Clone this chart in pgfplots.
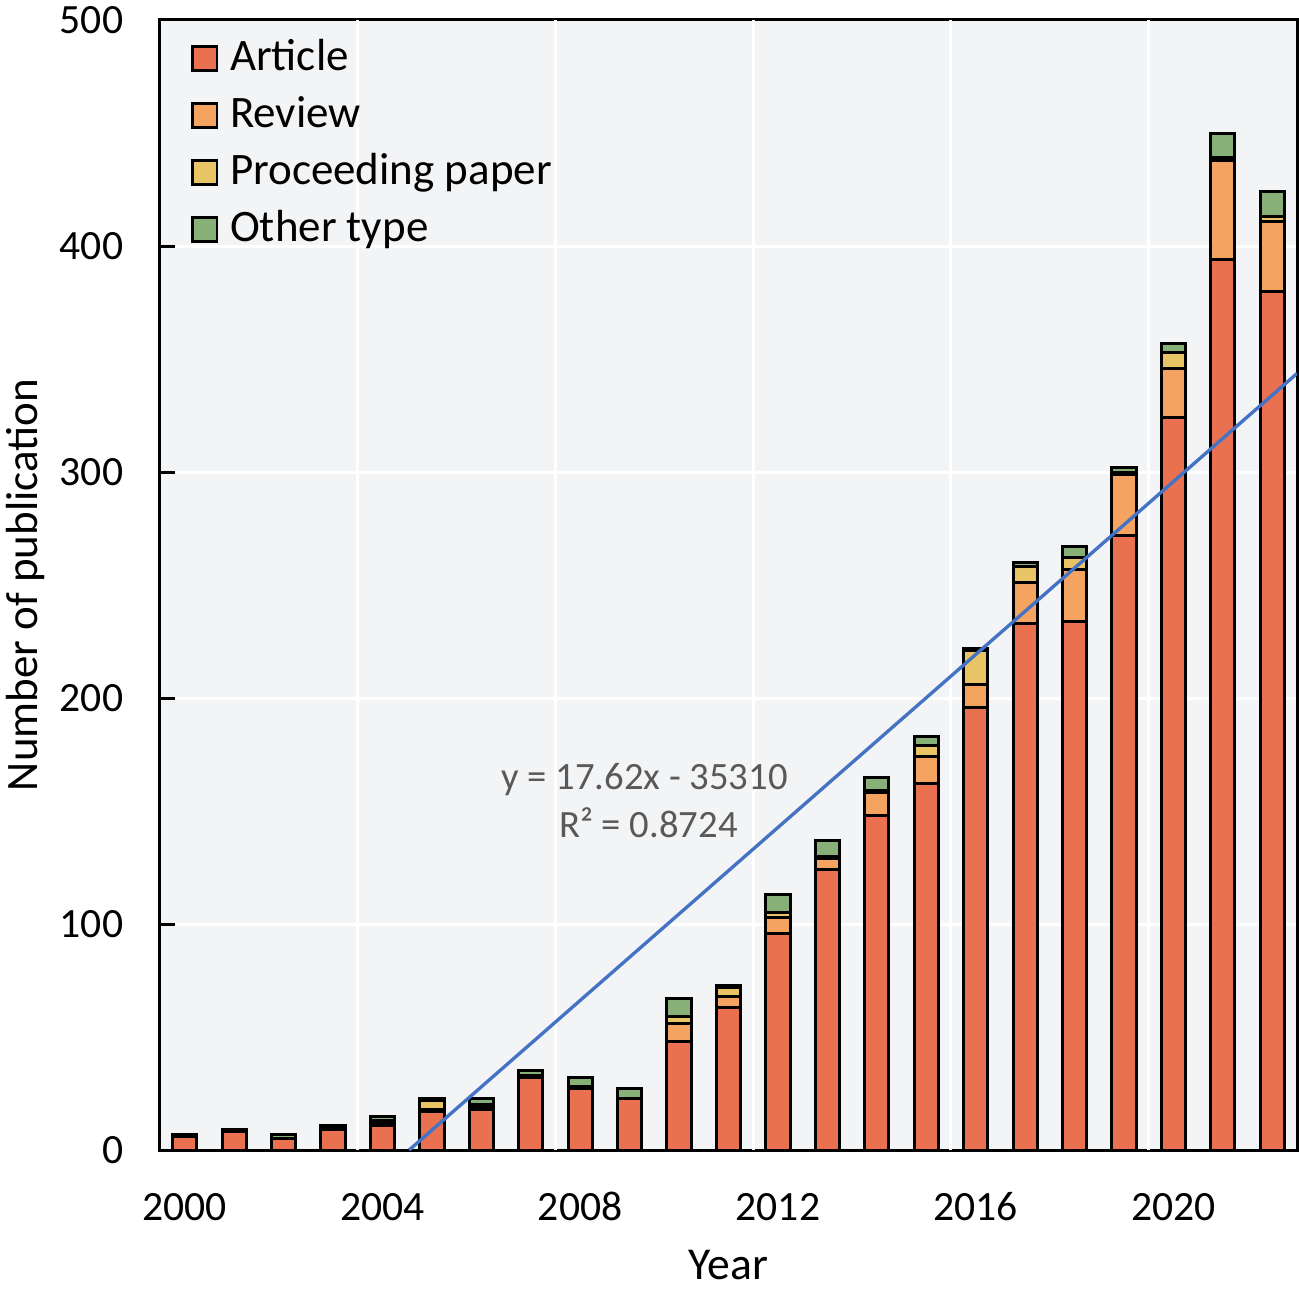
\documentclass[border=0pt]{standalone}
\usepackage{pgfplots}
\usepackage{pgfplotstable}
\pgfplotsset{compat=1.18}
\usepackage{fontspec}
\setmainfont{Carlito}
\definecolor{cArt}{RGB}{233,113,80}
\definecolor{cRev}{RGB}{244,164,96}
\definecolor{cPro}{RGB}{232,196,101}
\definecolor{cOth}{RGB}{135,176,120}
\definecolor{cBg}{RGB}{243,244,246}
\definecolor{cLine}{RGB}{68,114,196}
\definecolor{cTxt}{RGB}{89,89,89}

\pgfplotstableread{
year art rev pro oth
2000 6 0 0 1
2001 8 0 0 1
2002 5 0 0 2
2003 9 0 1 1
2004 11 1 1 2
2005 17 1 4 1
2006 18 1 1 3
2007 32 0 1 2
2008 27 1 0 4
2009 23 0 0 4
2010 48 8 3 8
2011 63 5 4 1
2012 96 7 2 8
2013 124 5 1 7
2014 148 10 1 6
2015 162 12 5 4
2016 196 10 15 1
2017 233 18 7 2
2018 234 23 5 5
2019 272 27 1 2
2020 324 22 7 4
2021 394 44 1 11
2022 380 31 2 11
}\data

\pgfplotsset{
  mybar/.style={draw=black, line width=0.9pt,
    legend image code/.code={\draw[##1, line width=0.8pt] (0pt,-3.6pt) rectangle (7.4pt,3.6pt);}},
}

\begin{document}
\begin{tikzpicture}
\begin{axis}[name=ax,
  width=341.1pt, height=339pt, scale only axis,
  xmin=1999.5, xmax=2022.5, ymin=0, ymax=500,
  ybar stacked, bar width=0.49,
  axis background/.style={fill=cBg},
  axis line style={line width=0.9pt},
  /pgf/number format/assume math mode=true,
  xtick={2000,2004,...,2020},
  xticklabel style={/pgf/number format/1000 sep={}, yshift=-8.6pt, text height=9pt, text depth=0pt, font=\fontsize{12.5}{14}\selectfont},
  yticklabel style={xshift=-7.5pt, font=\fontsize{12.5}{14}\selectfont},
  xtick style={draw=none},
  ytick={0,100,...,500}, ytick pos=left, tick align=inside,
  major tick length=4.5pt, ytick style={line width=0.9pt, black},
  ymajorgrids, grid style={white, line width=0.9pt},
  extra x ticks={2003.5,2007.5,2011.5,2015.5,2019.5}, extra x tick labels={},
  extra x tick style={grid=major, major tick length=0pt},
  xlabel={Year}, ylabel={Number of publication},
  xlabel style={at={(axis description cs:0.5,-0.1018)}, anchor=center, font=\fontsize{13.7}{15}\selectfont},
  ylabel style={at={(axis description cs:-0.118,0.5)}, anchor=center, font=\fontsize{13.5}{15}\selectfont},
  legend style={at={(axis description cs:0.018,0.996)}, anchor=north west, draw=none, fill=none,
    font=\fontsize{13.5}{15}\selectfont, row sep=1pt,
    nodes={inner sep=2pt, text height=9.6pt, text depth=2.5pt},
    /tikz/every odd column/.append style={column sep=1.5pt}},
  legend cell align=left,
]
\addplot[mybar, fill=cArt] table[x=year, y=art]{\data};
\addplot[mybar, fill=cRev] table[x=year, y=rev]{\data};
\addplot[mybar, fill=cPro] table[x=year, y=pro]{\data};
\addplot[mybar, fill=cOth] table[x=year, y=oth]{\data};
\legend{Article, Review, Proceeding paper, Other type}
\end{axis}
\begin{axis}[width=341.1pt, height=339pt, scale only axis,
  xmin=1999.5, xmax=2022.5, ymin=0, ymax=500, hide axis]
\addplot[color=cLine, line width=1pt, no marks] coordinates {(2004.54,0) (2022.5,343.6)};
\node[text=cTxt, font=\fontsize{11.6}{13}\selectfont] at (axis cs:2009.3,163.7) {y = 17.62x - 35310};
\node[text=cTxt, font=\fontsize{11.6}{13}\selectfont] at (axis cs:2009.38,144.7) {R² = 0.8724};
\end{axis}
\pgfresetboundingbox
\path[use as bounding box] ([xshift=-48pt,yshift=-43.2pt]ax.south west) rectangle ([xshift=0.6pt,yshift=6pt]ax.north east);
\end{tikzpicture}
\end{document}
